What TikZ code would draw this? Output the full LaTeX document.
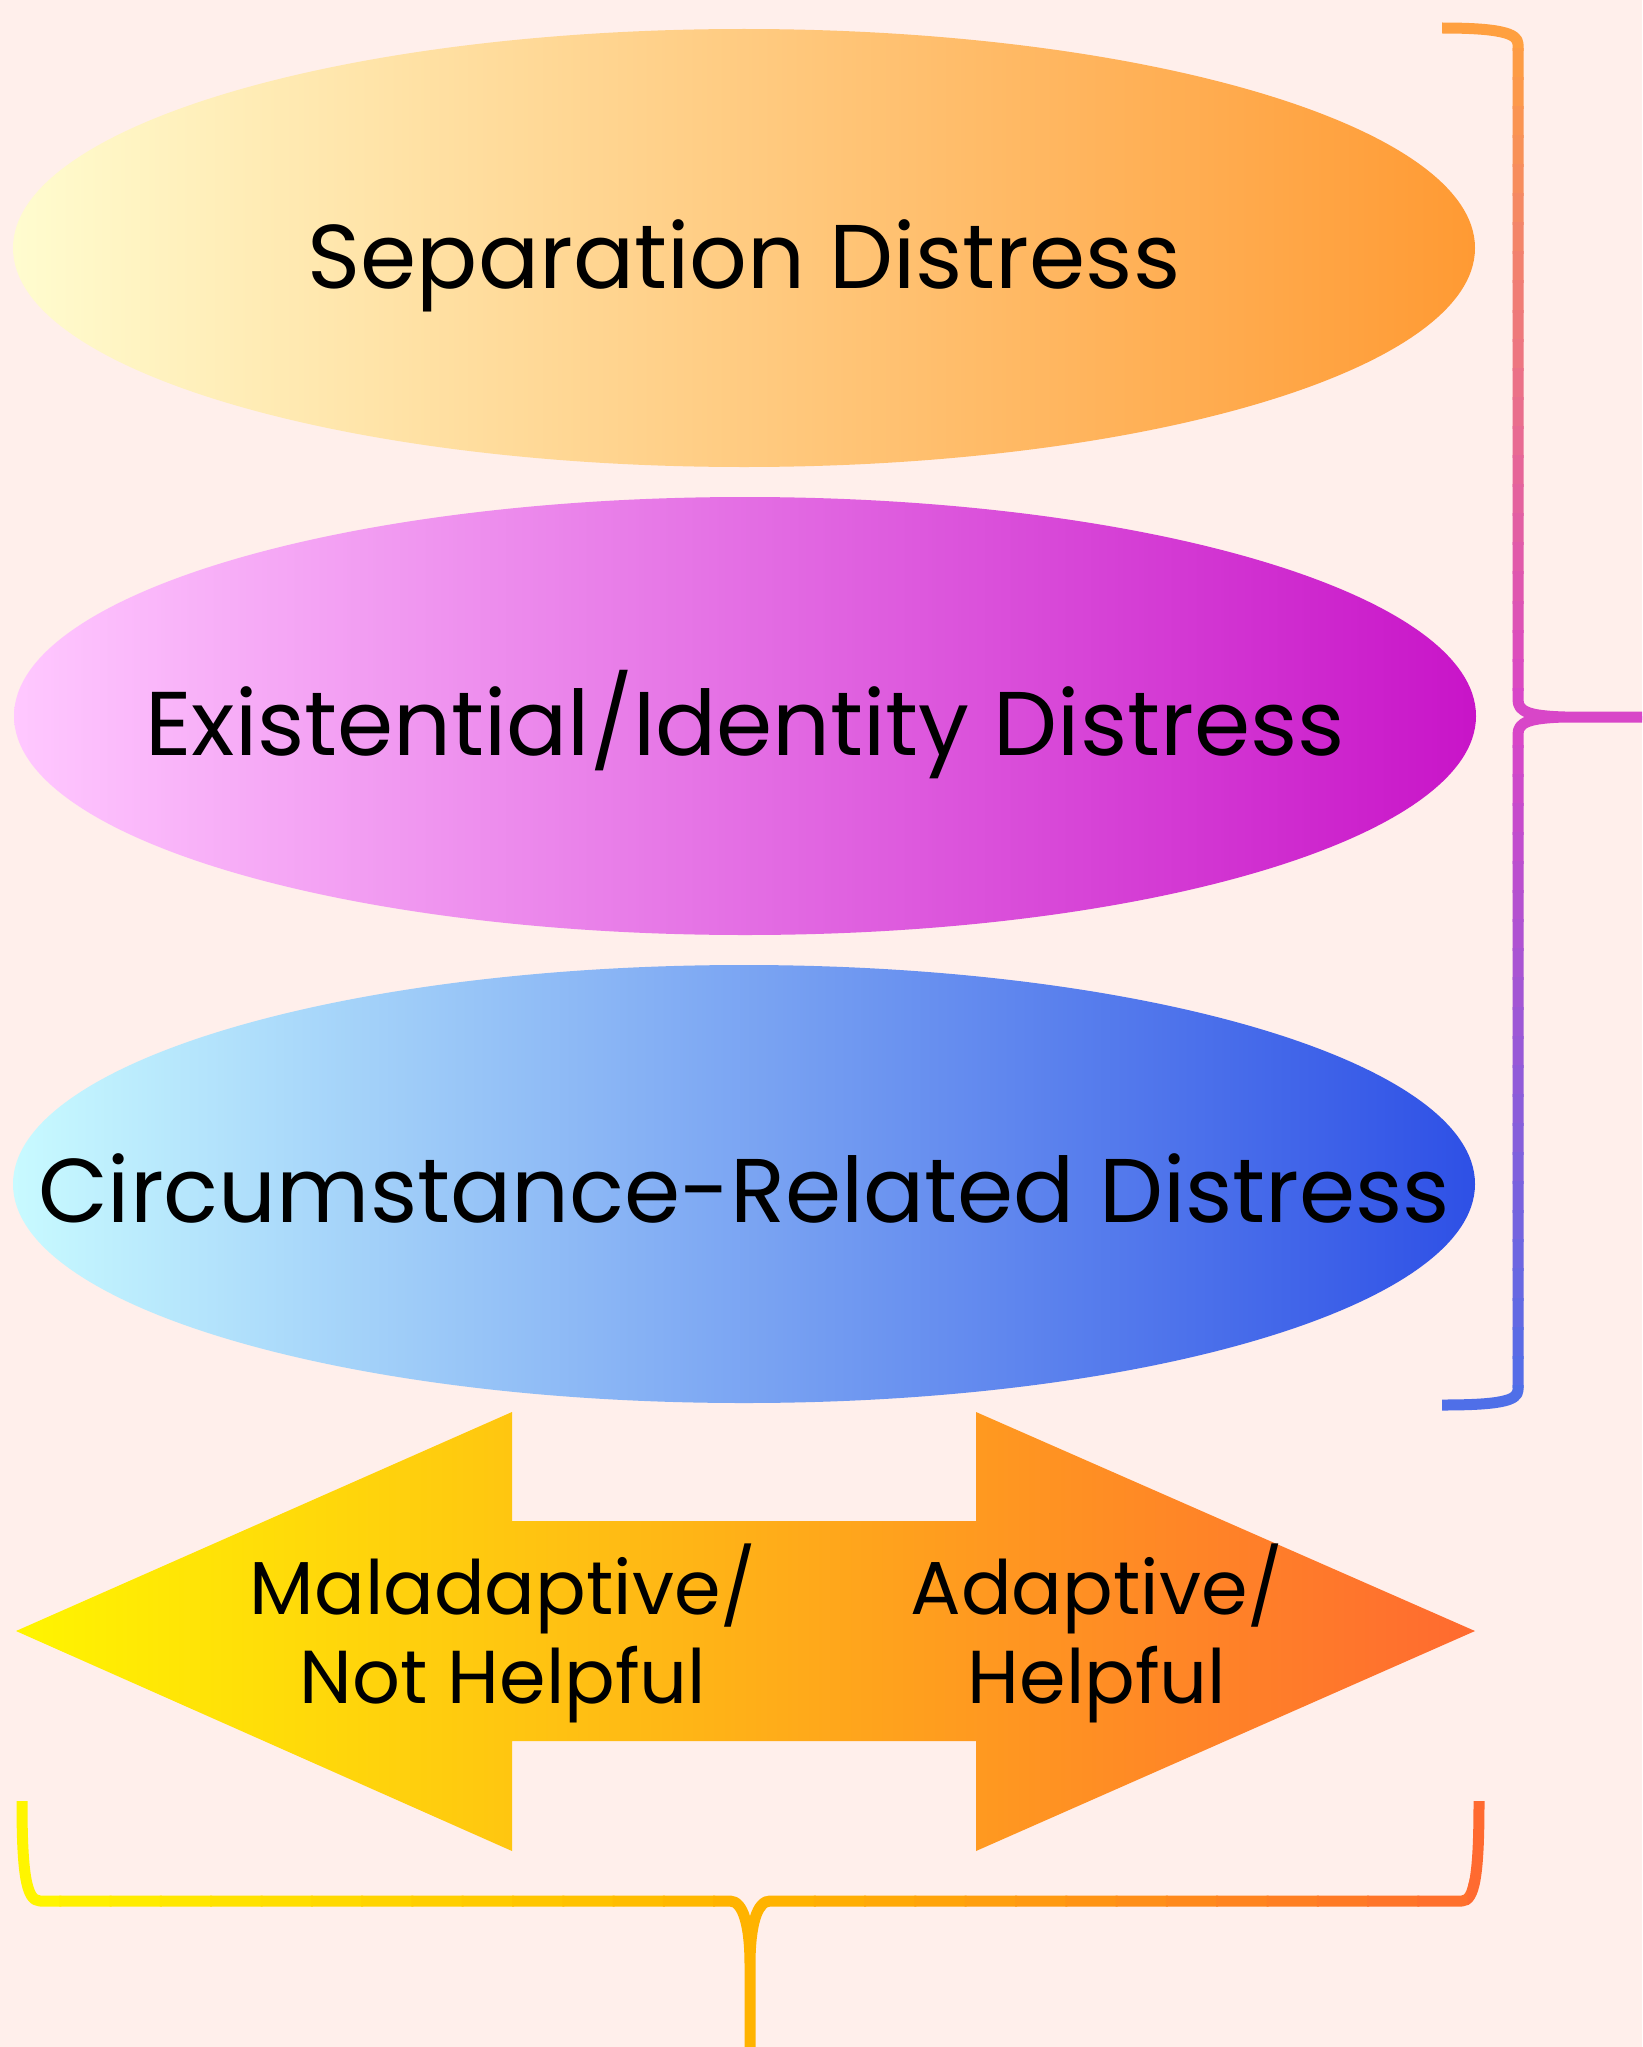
\documentclass[tikz,border=0pt]{standalone}
\usepackage{fontspec}
\setmainfont{Poppins}
\usetikzlibrary{shapes.geometric}

\definecolor{paper}{HTML}{FFEFEB}
\definecolor{sepL}{HTML}{FFFCCF}
\definecolor{sepM}{HTML}{FFD496}
\definecolor{sepR}{HTML}{FF9A33}
\definecolor{exiL}{HTML}{FFC8FF}
\definecolor{exiM}{HTML}{EAA6EA}
\definecolor{exiR}{HTML}{C814C8}
\definecolor{cirL}{HTML}{C8FAFF}
\definecolor{cirM}{HTML}{A0C8EC}
\definecolor{cirR}{HTML}{2E50E6}
\definecolor{arrL}{HTML}{FFF500}
\definecolor{arrM}{HTML}{FFB300}
\definecolor{arrR}{HTML}{FF6A30}
\definecolor{brTop}{HTML}{FFA040}
\definecolor{brMid}{HTML}{D846C8}
\definecolor{brBot}{HTML}{4F6FE8}

\newcommand{\upperbrace}{(1442,28) .. controls (1498,28) and (1518,33) .. (1518,44)
  -- (1518,700) .. controls (1518,712) and (1530,716) .. (1565,717) -- (1642,717)}
\newcommand{\lowerbrace}{(1642,717) -- (1565,717) .. controls (1530,718) and (1518,722) .. (1518,734)
  -- (1518,1390) .. controls (1518,1401) and (1498,1405) .. (1442,1405)}
\newcommand{\bottombrace}{(22,1801) .. controls (22,1872) and (26,1901) .. (40,1901)
  -- (730,1901) .. controls (743,1901) and (750,1925) .. (750,1965) -- (750,2047)
  (750,1965) .. controls (750,1925) and (757,1901) .. (770,1901)
  -- (1462,1901) .. controls (1475,1901) and (1479,1872) .. (1479,1801)}

\tikzset{
  distress/.style={ellipse, minimum width=1462pt, minimum height=438pt, inner sep=0pt},
  bigtext/.style={font=\fontsize{90.5}{100}\selectfont, inner sep=0pt, anchor=base},
  arrowtext/.style={font=\fontsize{75}{89}\selectfont, align=center, inner sep=0pt},
  bracestroke/.style={line width=11pt, line join=round},
}

\begin{document}
\begin{tikzpicture}[x=1pt, y=-1pt]
  \fill[paper] (0,0) rectangle (1642,2047);
  \useasboundingbox (0,0) rectangle (1642,2047);

  % the three kinds of distress
  \node[distress, left color=sepL, middle color=sepM, right color=sepR] (sep) at (744,248) {};
  \node[distress, left color=exiL, middle color=exiM, right color=exiR] (exi) at (745,716) {};
  \node[distress, left color=cirL, middle color=cirM, right color=cirR] (cir) at (744,1184) {};
  \node[bigtext] (septext) at (744,288) {Separation Distress};
  \node[bigtext] (exitext) at (745,755) {Existential/Identity Distress};
  \node[bigtext] (cirtext) at (744,1222) {Circumstance-Related Distress};

  % double arrow
  \shade[left color=arrL, middle color=arrM, right color=arrR]
    (16,1631) -- (512,1412) -- (512,1521) -- (976,1521) -- (976,1412) -- (1475,1631)
    -- (976,1851) -- (976,1741) -- (512,1741) -- (512,1851) -- cycle;
  \node[arrowtext] (maladaptive) at (503,1633) {Maladaptive/\\Not Helpful};
  \node[arrowtext] (adaptive) at (1097,1633) {Adaptive/\\Helpful};

  % right brace, drawn in bands
  \foreach \i in {0,...,23} {
    \pgfmathtruncatemacro\p{\i*100/23}
    \colorlet{bandcol}{brMid!\p!brTop}
    \begin{scope}
      \clip (1400,20+\i*29.1-1) rectangle (1642,20+\i*29.1+30.1);
      \draw[bracestroke, bandcol] \upperbrace;
    \end{scope}
  }
  \foreach \i in {0,...,23} {
    \pgfmathtruncatemacro\p{\i*100/23}
    \colorlet{bandcol}{brBot!\p!brMid}
    \begin{scope}
      \clip (1400,717+\i*29.1-1) rectangle (1642,717+\i*29.1+30.1);
      \draw[bracestroke, bandcol] \lowerbrace;
    \end{scope}
  }

  % bottom brace, drawn in bands
  \foreach \i in {0,...,29} {
    \ifnum\i<15
      \pgfmathtruncatemacro\p{\i*100/14}
      \colorlet{bandcol}{arrM!\p!arrL}
    \else
      \pgfmathtruncatemacro\p{(\i-15)*100/14}
      \colorlet{bandcol}{arrR!\p!arrM}
    \fi
    \begin{scope}
      \clip (10+\i*50.3-1,1780) rectangle (10+\i*50.3+51.3,2047);
      \draw[bracestroke, bandcol] \bottombrace;
    \end{scope}
  }
\end{tikzpicture}
\end{document}
